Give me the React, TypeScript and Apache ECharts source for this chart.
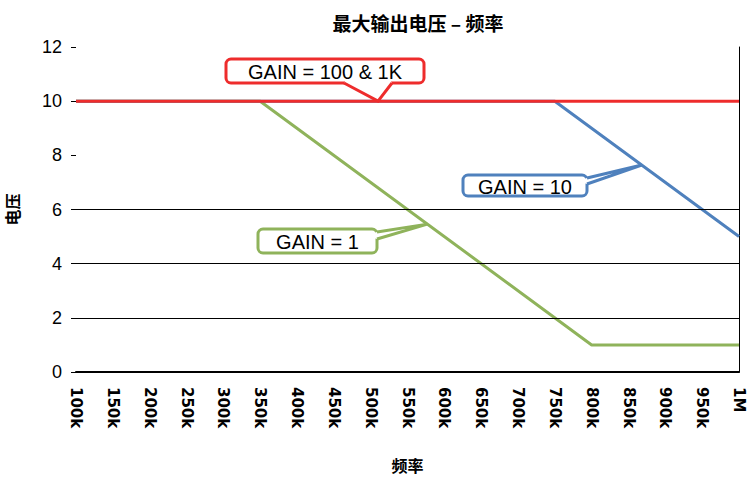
import React, { useEffect, useRef } from "react";
import * as echarts from "echarts";

const chartTitle = "最大输出电压 – 频率";
const xAxisName = "频率";
const yAxisName = "电压";

// [frequency Hz, max output voltage V]
const gain100and1K: number[][] = [
  [100000, 10],
  [1000000, 10],
];
const gain10: number[][] = [
  [100000, 10],
  [750000, 10],
  [1000000, 5],
];
const gain1: number[][] = [
  [100000, 10],
  [350000, 10],
  [800000, 1],
  [1000000, 1],
];
const gridValues = [2, 4, 6];

const seriesNames = ["GAIN = 1", "GAIN = 10", "GAIN = 100 & 1K"];
const seriesColors = ["#8FB35B", "#4F81BD", "#EE2C2C"];

// callout anchors: [frequency, voltage] on the line each callout points at
const calloutTexts = ["GAIN = 100 & 1K", "GAIN = 10", "GAIN = 1"];
const calloutAnchors: number[][] = [
  [510000, 10],
  [868000, 7.64],
  [577000, 5.46],
];

const FONT = "'Liberation Sans', Arial, sans-serif";
const TICKFONT = "'DejaVu Sans', sans-serif";
const CJK = "'Noto Sans CJK SC', sans-serif";

function freqLabel(v: number): string {
  if (v >= 1000000) return v / 1000000 + "M";
  return v / 1000 + "k";
}

export default function App() {
  const ref = useRef<HTMLDivElement>(null);
  useEffect(() => {
    if (!ref.current) return;
    const chart = echarts.init(ref.current, undefined, { renderer: "svg" });
    chart.setOption({
      animation: false,
      backgroundColor: "#fff",
      title: {
        text: chartTitle,
        left: 413,
        top: 8,
        textAlign: "center",
        textStyle: { fontFamily: CJK, fontSize: 19, fontWeight: "bold", color: "#000" },
      },
      grid: { left: 76, right: 10, top: 47, bottom: 106, containLabel: false, outerBoundsMode: "none" },
      xAxis: {
        type: "value",
        min: 100000,
        max: 1000000,
        interval: 50000,
        name: xAxisName,
        nameLocation: "middle",
        nameGap: 85,
        nameTextStyle: { fontFamily: CJK, fontSize: 16, fontWeight: "bold", color: "#000" },
        axisLine: { show: true, onZero: false, lineStyle: { color: "#000", width: 2 } },
        axisTick: { show: false },
        splitLine: { show: false },
        axisLabel: {
          rotate: -90,
          margin: 15,
          fontFamily: TICKFONT,
          fontSize: 15,
          fontWeight: "bold",
          color: "#000",
          formatter: (v: number) => freqLabel(v),
        },
      },
      yAxis: [
        {
          type: "value",
          min: 0,
          max: 12,
          interval: 2,
          name: yAxisName,
          nameLocation: "middle",
          nameGap: 56,
          nameTextStyle: { fontFamily: CJK, fontSize: 16, fontWeight: "bold", color: "#000" },
          axisLine: { show: false },
          axisTick: { show: true, length: 5, lineStyle: { color: "#000" } },
          splitLine: { show: false },
          axisLabel: { margin: 14, fontFamily: FONT, fontSize: 18, color: "#000" },
        },
        {
          type: "value",
          min: 0,
          max: 12,
          interval: 2,
          position: "right",
          axisLine: { show: true, lineStyle: { color: "#000", width: 1 } },
          axisTick: { show: false },
          axisLabel: { show: false },
          splitLine: { show: false },
        },
      ],
      series: [
        {
          name: seriesNames[0],
          type: "line",
          data: gain1,
          symbol: "none",
          z: 2,
          lineStyle: { color: seriesColors[0], width: 3 },
          markLine: {
            silent: true,
            symbol: "none",
            label: { show: false },
            lineStyle: { color: "#000", width: 1, type: "solid" },
            data: gridValues.map((v) => ({ yAxis: v })),
          },
        },
        {
          name: seriesNames[1],
          type: "line",
          data: gain10,
          symbol: "none",
          z: 3,
          lineStyle: { color: seriesColors[1], width: 3 },
        },
        {
          name: seriesNames[2],
          type: "line",
          data: gain100and1K,
          symbol: "none",
          z: 4,
          lineStyle: { color: seriesColors[2], width: 3 },
        },
      ],
    });

    // callout boxes (layout), pointing at anchors computed through the axes
    const boxes = [
      { x: 226, y: 59, w: 198, h: 24, color: seriesColors[2], side: "bottom", b0: 344, b1: 392 },
      { x: 463, y: 175, w: 124, h: 21, color: seriesColors[1], side: "right", b0: 178, b1: 184 },
      { x: 258, y: 229, w: 119, h: 24, color: seriesColors[0], side: "right", b0: 232, b1: 239 },
    ];
    const graphics: any[] = [];
    boxes.forEach((b, i) => {
      const tip = chart.convertToPixel({ gridIndex: 0 }, calloutAnchors[i]) as number[];
      let p0: number[], p1: number[], q0: number[], q1: number[];
      if (b.side === "bottom") {
        p0 = [b.b0, b.y + b.h];
        p1 = [b.b1, b.y + b.h];
        q0 = [b.b0 + 2, b.y + b.h - 3];
        q1 = [b.b1 - 2, b.y + b.h - 3];
      } else {
        p0 = [b.x + b.w, b.b0];
        p1 = [b.x + b.w, b.b1];
        q0 = [b.x + b.w - 3, b.b0 + 1];
        q1 = [b.x + b.w - 3, b.b1 - 1];
      }
      graphics.push({
        type: "rect",
        z: 100,
        shape: { x: b.x, y: b.y, width: b.w, height: b.h, r: 5 },
        style: { fill: "#fff", stroke: b.color, lineWidth: 3 },
      });
      graphics.push({
        type: "polygon",
        z: 101,
        shape: { points: [q0, p0, tip, p1, q1] },
        style: { fill: "#fff", stroke: "none" },
      });
      graphics.push({
        type: "polyline",
        z: 102,
        shape: { points: [p0, tip, p1] },
        style: { stroke: b.color, lineWidth: 3, fill: "none", lineJoin: "miter" },
      });
      graphics.push({
        type: "text",
        z: 103,
        x: b.x + b.w / 2,
        y: b.y + b.h / 2 + 1,
        style: {
          text: calloutTexts[i],
          fontFamily: FONT,
          fontSize: 20,
          fill: "#000",
          align: "center",
          verticalAlign: "middle",
        },
      });
    });
    chart.setOption({ graphic: graphics });

    return () => chart.dispose();
  }, []);
  return <div ref={ref} style={{ width: 749, height: 478, position: "absolute", left: 0, top: 0 }} />;
}
